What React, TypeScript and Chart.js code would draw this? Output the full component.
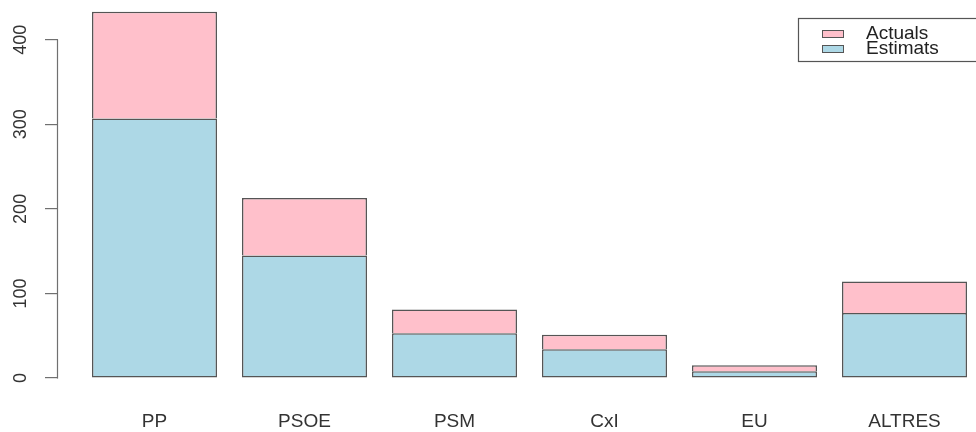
import { useEffect, useRef } from "react";
import { Chart, registerables } from "chart.js";

Chart.register(...registerables);

const categories = ["PP", "PSOE", "PSM", "CxI", "EU", "ALTRES"];
const estimats = [307, 145, 53, 34, 8, 77];
const actuals = [126, 68, 28, 17, 7, 37];
const yTickValues = [0, 100, 200, 300, 400];

const FONT = "'Liberation Sans', Arial, Helvetica, sans-serif";

const axisLinePlugin = {
  id: "rAxisLine",
  afterDraw(chart: any) {
    const ys = chart.scales.y;
    const ctx = chart.ctx;
    const x = Math.round(chart.chartArea.left) - 0.5;
    ctx.save();
    ctx.strokeStyle = "#707070";
    ctx.lineWidth = 1.2;
    ctx.beginPath();
    ctx.moveTo(x, Math.round(ys.getPixelForValue(yTickValues[0])) + 0.5);
    ctx.lineTo(x, Math.round(ys.getPixelForValue(yTickValues[yTickValues.length - 1])) - 0.5);
    ctx.stroke();
    ctx.restore();
  },
};

const legendPlugin = {
  id: "rLegend",
  afterDraw(chart: any) {
    const ctx = chart.ctx;
    ctx.save();
    ctx.strokeStyle = "#555555";
    ctx.lineWidth = 1.2;
    ctx.strokeRect(798.5, 18.5, 200, 43);
    const entries = [...chart.data.datasets].reverse();
    const rowY = [34, 49];
    entries.forEach((ds: any, i: number) => {
      ctx.fillStyle = ds.backgroundColor;
      ctx.fillRect(822, rowY[i] - 3.5, 21, 7);
      ctx.strokeStyle = "#555555";
      ctx.lineWidth = 1;
      ctx.strokeRect(822.5, rowY[i] - 3.5, 21, 7);
      ctx.fillStyle = "#222222";
      ctx.font = `19px ${FONT}`;
      ctx.textBaseline = "middle";
      ctx.textAlign = "left";
      ctx.fillText(ds.label, 866, rowY[i]);
    });
    ctx.restore();
  },
};

export default function App() {
  const canvasRef = useRef<HTMLCanvasElement | null>(null);

  useEffect(() => {
    if (!canvasRef.current) return;
    Chart.defaults.font.family = FONT;
    const chart = new Chart(canvasRef.current, {
      type: "bar",
      data: {
        datasets: [
          {
            label: "Estimats",
            data: estimats.map((v, i) => ({ x: i, y: v })),
            backgroundColor: "#ADD8E6",
            borderColor: "#555555",
            borderWidth: 1.5,
            borderSkipped: false,
            categoryPercentage: 1,
            barPercentage: 0.8333,
          },
          {
            label: "Actuals",
            data: actuals.map((v, i) => ({ x: i, y: v })),
            backgroundColor: "#FFC0CB",
            borderColor: "#555555",
            borderWidth: { top: 1.5, left: 1.5, right: 1.5, bottom: 0 },
            borderSkipped: false,
            categoryPercentage: 1,
            barPercentage: 0.8333,
          },
        ],
      },
      options: {
        animation: false,
        responsive: true,
        maintainAspectRatio: false,
        layout: { padding: 0 },
        plugins: {
          legend: { display: false },
          tooltip: { enabled: false },
        },
        scales: {
          x: {
            type: "linear",
            stacked: true,
            offset: false,
            min: -0.6433,
            max: 5.4767,
            grid: { display: false, drawTicks: false, offset: false },
            border: { display: false },
            afterBuildTicks: (s: any) => {
              s.ticks = categories.map((_, i) => ({ value: i }));
            },
            afterFit: (s: any) => {
              s.height = 54;
              s.paddingLeft = 0;
              s.paddingRight = 0;
            },
            ticks: {
              autoSkip: false,
              maxRotation: 0,
              minRotation: 0,
              padding: 32,
              color: "#333333",
              font: { size: 19, family: FONT },
              callback: (v: any) => categories[v] ?? "",
            },
          },
          y: {
            stacked: true,
            min: 0,
            max: 447,
            grid: {
              display: true,
              drawOnChartArea: false,
              drawTicks: true,
              tickLength: 13,
              color: "#707070",
              lineWidth: 1.2,
            },
            border: { display: false },
            afterBuildTicks: (s: any) => {
              s.ticks = yTickValues.map((v) => ({ value: v }));
            },
            afterFit: (s: any) => {
              s.width = 58;
              s.paddingTop = 0;
              s.paddingBottom = 0;
            },
            ticks: {
              minRotation: 90,
              maxRotation: 90,
              crossAlign: "center",
              padding: 9,
              color: "#333333",
              font: { size: 18, family: FONT },
            },
          },
        },
      },
      plugins: [axisLinePlugin, legendPlugin],
    } as any);
    return () => chart.destroy();
  }, []);

  return (
    <div style={{ position: "absolute", left: 0, top: 0, width: 976, height: 432, overflow: "hidden", background: "#ffffff" }}>
      <canvas ref={canvasRef} />
    </div>
  );
}
